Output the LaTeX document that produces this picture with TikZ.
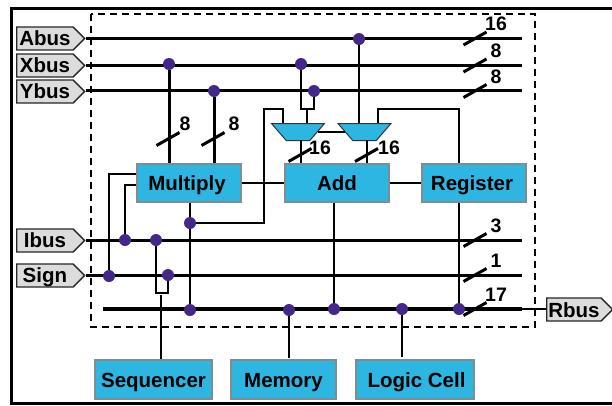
\documentclass[tikz,border=0pt]{standalone}
\usepackage{xcolor}
\usepackage{fontspec}
\setmainfont{Liberation Sans}
\usepackage{tikz}
\usetikzlibrary{shapes, positioning, calc}
\definecolor{boxblue}{HTML}{2EB6E2}
\definecolor{dotpurple}{HTML}{43288A}
\definecolor{tagfill}{HTML}{DCDCDC}
\definecolor{boxedge}{HTML}{7F8C90}
\tikzset{
    lab/.style={font=\fontsize{20.5}{24}\selectfont\bfseries},
    unitbox/.style={lab, draw=boxedge, line width=1.5pt, fill=boxblue, inner sep=0pt, text height=15.4pt, text depth=0pt},
    bustag/.style={lab, shape=signal, signal to=east, signal pointer angle=90, draw=black!85, line width=1.4pt,
        fill=tagfill, minimum height=23pt, inner sep=0pt, anchor=west, text height=13pt, text depth=0pt},
    mux/.style={shape=trapezium, trapezium left angle=58, trapezium right angle=58, trapezium stretches=true,
        shape border rotate=180, draw=black!80, line width=1pt, fill=boxblue, minimum width=53pt, minimum height=17pt, inner sep=1pt},
    dot/.style={circle, fill=dotpurple, minimum size=12pt, inner sep=0pt},
    bus/.style={line width=3pt},
    wire/.style={line width=2pt},
    tick/.style={line width=3pt},
    width/.style={font=\fontsize{19.5}{22}\selectfont\bfseries, inner sep=0pt}
}

\begin{document}
\begin{tikzpicture}[x=1pt, y=-1pt]
\useasboundingbox (0,0) rectangle (612,405);

% Frame
\draw[line width=3pt] (612,8) -- (11,8) -- (11,403) -- (612,403);
\draw[line width=1.5pt, dash pattern=on 7pt off 5pt] (91,14) rectangle (535,327);

% Input and output tags
\foreach \name/\y/\len/\txt in {abus/38.5/68/Abus, xbus/65.5/68/Xbus, ybus/91.5/68/Ybus, ibus/240.5/68/Ibus, sign/275.5/68/Sign} {
    \node[bustag, minimum width=\len pt] (\name) at (16,\y) {\txt};
}
\node[bustag, minimum width=66pt, text height=15pt] (rbus) at (546,309.5) {Rbus};

% Buses
\foreach \name/\y in {abus/38, xbus/65, ybus/90.5, ibus/240, sign/275} {
    \coordinate (\name end) at (522,\y);
    \draw[bus] (\name.east |- \name end) -- (\name end);
}
\coordinate (rstart) at (103,309);
\coordinate (rend) at (522,309);
\draw[line width=3.6pt] (rstart) -- (rend);
\draw[line width=2.2pt] (rend) -- (rbus.west |- rend);

% Units
\node[unitbox, minimum width=104pt, minimum height=38pt] (multiply) at (189,183) {Multiply\kern4pt};
\node[unitbox, minimum width=104pt, minimum height=38pt] (add) at (337,183) {Add};
\node[unitbox, minimum width=104pt, minimum height=38pt] (register) at (474,183) {Register\kern4pt};
\node[unitbox, minimum width=117pt, minimum height=39pt] (sequencer) at (153.5,379.5) {Sequencer};
\node[unitbox, minimum width=105pt, minimum height=39pt] (memory) at (283.5,379.5) {Memory};
\node[unitbox, minimum width=118pt, minimum height=39pt] (logic) at (415,379.5) {\kern3pt Logic Cell};

% Multiplexers
\node[mux] (muxl) at (298,132) {};
\node[mux] (muxr) at (364.5,132) {};

% Taps
\foreach \name/\pos in {dxm/{169,64}, dym/{214,91}, dxl/{301,64}, dyl/{314,91}, dar/{359,39},
        dib/{125,240}, dis/{156,240}, dsb/{109,276}, dss/{168,275}, dmu/{190,223},
        drm/{190,310}, dme/{289,310}, dad/{334,309}, dlo/{402,309}, dre/{459,309}} {
    \node[dot] (\name) at (\pos) {};
}

% Operand wires
\draw[bus] (dxm) -- (dxm |- multiply.north);
\draw[bus] (dym) -- (dym |- multiply.north);
\coordinate (xjog) at (301,109);
\coordinate (yjog) at (314,109);
\coordinate (muxlin) at (307,123);
\draw[wire] (dxl) -- (xjog) -- (yjog) -- (dyl);
\draw[wire] (muxlin |- xjog) -- (muxlin);
\coordinate (fbl) at (264,109);
\coordinate (muxlfb) at (283,123);
\draw[wire] (dmu) -- (fbl |- dmu) -- (fbl) -- (muxlfb |- fbl) -- (muxlfb);
\coordinate (muxrin) at (359,123);
\draw[wire] (dar) -- (muxrin);
\coordinate (muxrfb) at (378,123);
\draw[wire] (muxrfb) -- (378,109) -| (dre |- register.north);
\draw[wire] (muxl.east) -- (muxr.west);
\coordinate (outl) at (301,140);
\coordinate (outr) at (367,140);
\draw[wire] (outl) -- (outl |- add.north);
\draw[wire] (outr) -- (outr |- add.north);

% Unit wires
\draw[wire] (multiply.east) -- (add.west);
\draw[wire] (add.east) -- (register.west);
\draw[wire] (multiply.west |- 0,174) -| (dsb);
\draw[wire] (multiply.west |- 0,185) -| (dib);
\draw[wire] (dmu |- multiply.south) -- (dmu);
\draw[wire] (dmu) -- (drm);
\draw[wire] (dad |- add.south) -- (dad);
\draw[wire] (dre |- register.south) -- (dre);

% Control wires
\coordinate (loop) at (156,293);
\draw[wire] (dis) -- (loop) -| (dss);
\coordinate (seqtap) at (161,295);
\draw[wire] (seqtap) -- (seqtap |- sequencer.north);
\draw[wire] (dme) -- (289,358);
\draw[wire] (dlo) -- (402,357);

% Width marks
\foreach \x/\y in {475/38.5, 475/65.5, 475/91, 475/240, 475/275, 475/309, 168/139, 213/139, 300/155, 366.5/155} {
    \draw[tick] (\x-11.5,\y+6.5) -- (\x+11.5,\y-6.5);
}
\foreach \name/\pos/\txt in {wa/{496,24}/16, wx/{496,51}/8, wy/{496,77}/8, wi/{496,226}/3, ws/{496,261}/1, wr/{496,295}/17,
        wm/{185,124}/8, wn/{234,124}/8, wl/{320,148}/16, wt/{389,148}/16} {
    \node[width] (\name) at (\pos) {\txt};
}
\end{tikzpicture}
\end{document}
